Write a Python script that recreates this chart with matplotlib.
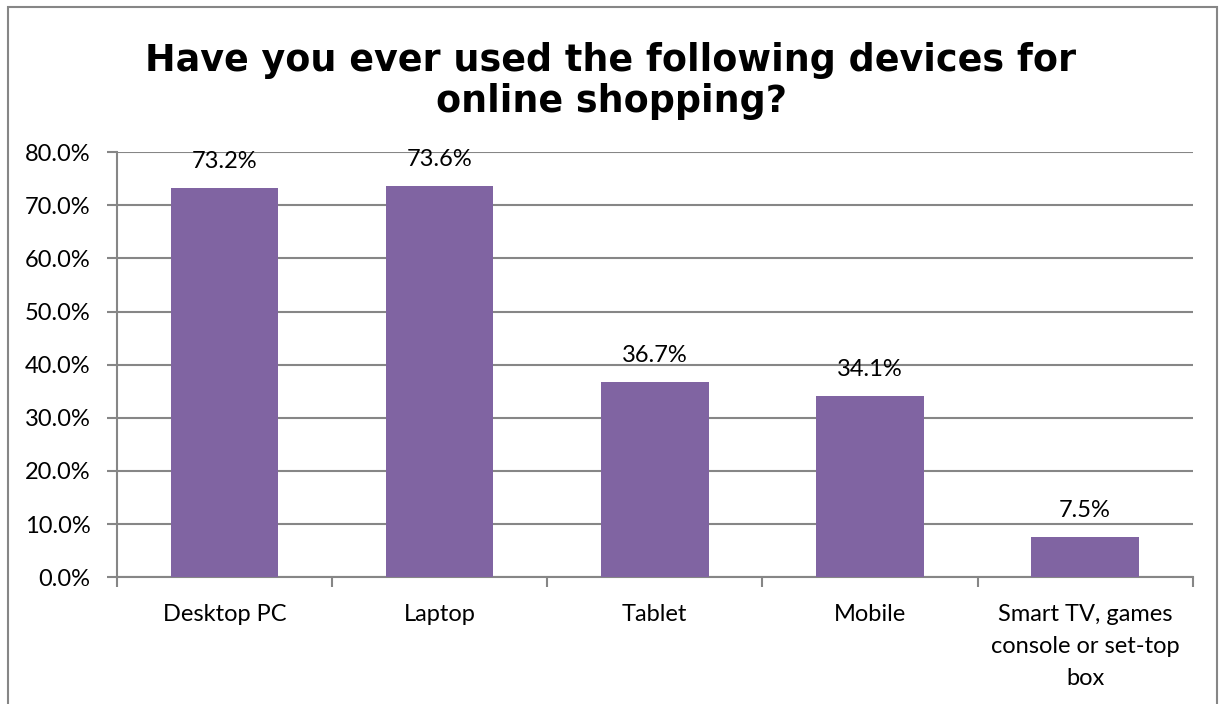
import matplotlib
matplotlib.use("Agg")
import matplotlib.pyplot as plt
import numpy as np
from matplotlib.patches import Rectangle

categories = ["Desktop PC", "Laptop", "Tablet", "Mobile",
              "Smart TV, games\nconsole or set-top\nbox"]
values = [73.2, 73.6, 36.7, 34.1, 7.5]
yticks = [0, 10, 20, 30, 40, 50, 60, 70, 80]

bar_color = "#8064A2"
grid_color = "#868686"

plt.rcParams["font.family"] = ["Lato", "DejaVu Sans"]

fig = plt.figure(figsize=(12.22, 7.04), dpi=100)
ax = fig.add_axes([0.0957, 0.180, 0.8803, 0.604])

x = np.arange(len(categories))
ax.bar(x, values, width=0.5, color=bar_color, zorder=3)

ax.set_xlim(-0.5, len(categories) - 0.5)
ax.set_ylim(0, 80)
ax.set_yticks(yticks)
ax.set_yticklabels(["%.1f%%" % v for v in yticks], fontsize=17)
ax.yaxis.grid(True, color=grid_color, linewidth=1.5, zorder=0)
ax.set_axisbelow(True)

ax.set_xticks(x)
ax.set_xticklabels(categories, fontsize=17, linespacing=1.65)
ax.set_xticks(np.arange(len(categories) + 1) - 0.5, minor=True)
ax.tick_params(axis="x", which="major", length=0, pad=19)
ax.tick_params(axis="x", which="minor", length=7, width=1.5, color=grid_color)
ax.tick_params(axis="y", length=7, width=1.5, color=grid_color, pad=12)
for lab in ax.get_xticklabels():
    lab.set_verticalalignment("top")

for s in ["top", "right"]:
    ax.spines[s].set_visible(False)
for s in ["left", "bottom"]:
    ax.spines[s].set_color(grid_color)
    ax.spines[s].set_linewidth(1.5)

for i, v in enumerate(values):
    ax.text(x[i], v + 3.0, "%.1f%%" % v, ha="center", va="bottom", fontsize=17)

fig.text(0.5, 0.885, "Have you ever used the following devices for\nonline shopping?",
         ha="center", va="center", fontsize=26.3, fontweight="bold",
         family="DejaVu Sans", linespacing=1.15)

fig.patches.append(Rectangle((8 / 1222, -0.01), 1209 / 1222, 1 - 7 / 704 + 0.01,
                             transform=fig.transFigure, fill=False,
                             edgecolor=grid_color, linewidth=1.5))

fig.savefig("out.png", dpi=100)
